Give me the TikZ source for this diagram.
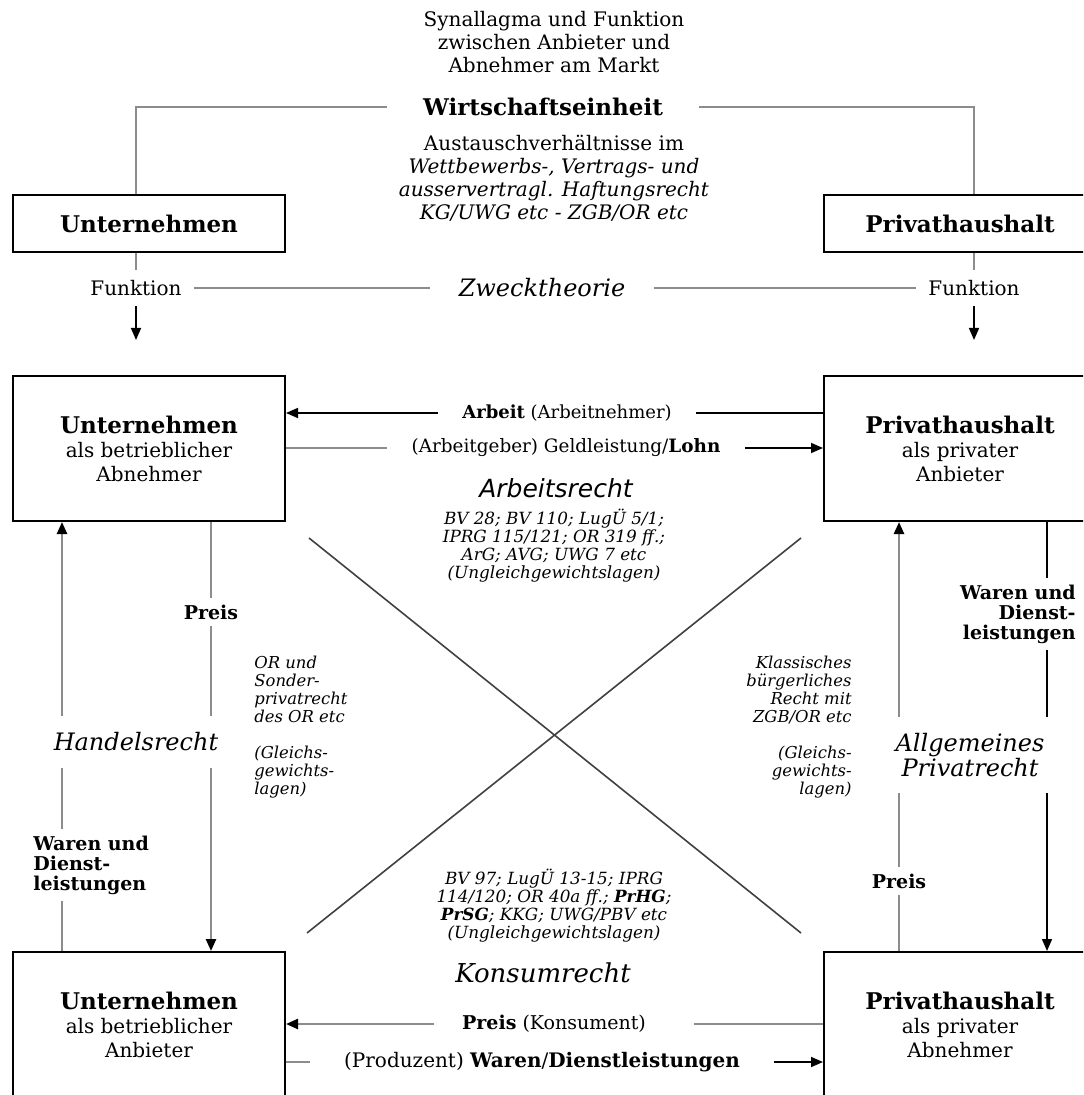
\documentclass[tikz,border=0pt]{standalone}
\usepackage{fontspec}
\setmainfont{DejaVu Serif}
\newfontfamily\arsans{DejaVu Sans}
\usetikzlibrary{arrows.meta}
\begin{document}
\begin{tikzpicture}[x=0.5pt,y=-0.5pt,
  box/.style={draw,line width=1pt,minimum width=136pt,align=center,inner sep=0pt},
  blk/.style={draw=black,line width=0.8pt},
  gry/.style={draw=black!45,line width=1.2pt},
  diag/.style={draw=black!75,line width=0.8pt},
  arr/.style={-{Triangle[length=6pt,width=5pt,color=black]}},
  lbl/.style={inner xsep=12pt,inner ysep=3pt,font=\fontsize{9}{11}\selectfont},
  code/.style={align=center,font=\itshape\fontsize{8.4}{9}\selectfont},
  side/.style={font=\itshape\fontsize{8.2}{9}\selectfont,inner sep=2pt},
  recht/.style={align=center,inner xsep=2pt,inner ysep=8pt,font=\itshape\fontsize{12}{12.5}\selectfont},
  wd/.style={font=\bfseries\fontsize{9.5}{10}\selectfont,inner sep=3pt}]
\useasboundingbox (0,0) rectangle (1083,1095);
\clip (0,0) rectangle (1083,1095);
\coordinate (cl) at (136,0);
\coordinate (cr) at (974,0);
\coordinate (xl1) at (62,0);
\coordinate (xl2) at (211,0);
\coordinate (xr1) at (899,0);
\coordinate (xr2) at (1047,0);

\node[align=center,font=\fontsize{10}{11.5}\selectfont] (title) at (554,42) {Synallagma und Funktion\\zwischen Anbieter und\\Abnehmer am Markt};
\node[font=\bfseries\fontsize{11.5}{13}\selectfont,inner xsep=18pt] (we) at (543,107) {Wirtschaftseinheit};
\node[align=center,font=\fontsize{10}{11.5}\selectfont] (aus) at (554,178) {Austauschverhältnisse im\\\textit{Wettbewerbs-, Vertrags- und}\\\textit{ausservertragl. Haftungsrecht}\\\textit{KG/UWG etc - ZGB/OR etc}};

\node[box,minimum height=28.5pt,font=\bfseries\fontsize{11.5}{13}\selectfont] (ut) at (149,223.5) {Unternehmen};
\node[box,minimum height=28.5pt,font=\bfseries\fontsize{11.5}{13}\selectfont] (pt) at (960,223.5) {Privathaushalt};
\node[lbl,font=\fontsize{10}{11}\selectfont,inner xsep=6pt,inner ysep=5pt] (fl) at (136,288) {Funktion};
\node[lbl,font=\fontsize{10}{11}\selectfont,inner xsep=6pt,inner ysep=5pt] (fr) at (974,288) {Funktion};
\node[font=\itshape\fontsize{12}{13}\selectfont,inner xsep=14pt] (zt) at (542,288) {Zwecktheorie};
\coordinate (fla) at (136,340);
\coordinate (fra) at (974,340);

\draw[gry] (we) -| (ut.north -| cl);
\draw[gry] (we) -| (pt.north -| cr);
\draw[gry] (ut.south -| cl) -- (fl);
\draw[gry] (pt.south -| cr) -- (fr);
\draw[blk,arr] (fl) -- (fla);
\draw[blk,arr] (fr) -- (fra);
\draw[gry] (fl.east) -- (zt.west);
\draw[gry] (zt.east) -- (fr.west);

\node[box,minimum height=72.5pt,font=\fontsize{10}{12}\selectfont] (ua) at (149,448.5) {{\bfseries\fontsize{11.5}{12}\selectfont Unternehmen}\\als betrieblicher\\Abnehmer};
\node[box,minimum height=72.5pt,font=\fontsize{10}{12}\selectfont] (pa) at (960,448.5) {{\bfseries\fontsize{11.5}{12}\selectfont Privathaushalt}\\als privater\\Anbieter};
\node[lbl] (arb) at (567,413) {\textbf{Arbeit} (Arbeitnehmer)};
\node[lbl,font=\fontsize{9.2}{11}\selectfont] (geld) at (566,448) {(Arbeitgeber) Geldleistung/\textbf{Lohn}};
\node[font=\arsans\itshape\fontsize{12.5}{13}\selectfont] (ar) at (556,488) {Arbeitsrecht};
\node[code] (arc) at (554,546) {BV 28; BV 110; LugÜ 5/1;\\IPRG 115/121; OR 319 ff.;\\ArG; AVG; UWG 7 etc\\(Ungleichgewichtslagen)};

\draw[blk] (pa.west |- arb) -- (arb);
\draw[blk,arr] (arb) -- (ua.east |- arb);
\draw[gry] (ua.east |- geld) -- (geld);
\draw[blk,arr] (geld) -- (pa.west |- geld);

\coordinate (d1) at (309,538);
\coordinate (d2) at (801,933);
\coordinate (d3) at (801,538);
\coordinate (d4) at (307,933);
\draw[diag] (d1) -- (d2);
\draw[diag] (d3) -- (d4);

\node[box,minimum height=73pt,font=\fontsize{10}{12}\selectfont] (ub) at (149,1025) {{\bfseries\fontsize{11.5}{12}\selectfont Unternehmen}\\als betrieblicher\\Anbieter};
\node[box,minimum height=73pt,font=\fontsize{10}{12}\selectfont] (pb) at (960,1025) {{\bfseries\fontsize{11.5}{12}\selectfont Privathaushalt}\\als privater\\Abnehmer};

\node[recht] (hr) at (136,742) {Handelsrecht};
\node[recht] (ap) at (970,755) {Allgemeines\\Privatrecht};
\node[wd] (preisl) at (211,612) {Preis};
\node[wd] (preisr) at (899,881) {Preis};
\node[wd,anchor=west,align=left] (wl) at (27,865) {Waren und\\Dienst-\\leistungen};
\node[wd,anchor=east,align=right] (wr) at (1082,614) {Waren und\\Dienst-\\leistungen};
\node[side,anchor=west,align=left] (orb) at (250,727) {OR und\\Sonder-\\privatrecht\\des OR etc\\[9pt](Gleichs-\\gewichts-\\lagen)};
\node[side,anchor=east,align=right] (kb) at (856,727) {Klassisches\\bürgerliches\\Recht mit\\ZGB/OR etc\\[9pt](Gleichs-\\gewichts-\\lagen)};

\draw[gry,arr] (hr.north -| xl1) -- (ua.south -| xl1);
\draw[gry] (wl.north -| xl1) -- (hr.south -| xl1);
\draw[gry] (ub.north -| xl1) -- (wl.south -| xl1);
\draw[gry] (ua.south -| xl2) -- (preisl);
\draw[gry] (preisl) -- (hr.north -| xl2);
\draw[gry,arr] (hr.south -| xl2) -- (ub.north -| xl2);
\draw[gry] (pb.north -| xr1) -- (preisr);
\draw[gry] (preisr) -- (ap.south -| xr1);
\draw[gry,arr] (ap.north -| xr1) -- (pa.south -| xr1);
\draw[blk] (pa.south -| xr2) -- (wr.north -| xr2);
\draw[blk] (wr.south -| xr2) -- (ap.north -| xr2);
\draw[blk,arr] (ap.south -| xr2) -- (pb.north -| xr2);

\node[code] (kbc) at (554,906) {BV 97; LugÜ 13-15; IPRG\\114/120; OR 40a ff.; \textbf{PrHG};\\\textbf{PrSG}; KKG; UWG/PBV etc\\(Ungleichgewichtslagen)};
\node[font=\itshape\fontsize{13}{14}\selectfont] (kr) at (543,973) {Konsumrecht};
\node[lbl,font=\fontsize{9.5}{11}\selectfont,inner xsep=14pt] (pk) at (554,1024) {\textbf{Preis} (Konsument)};
\node[lbl,font=\fontsize{10}{11}\selectfont,inner xsep=17pt] (pw) at (542,1062) {(Produzent) \textbf{Waren}/\textbf{Dienstleistungen}};

\draw[gry] (pb.west |- pk) -- ([xshift=10pt]pk.east);
\draw[gry,arr] (pk) -- (ub.east |- pk);
\draw[gry] (ub.east |- pw) -- (pw);
\draw[blk,arr] (pw) -- (pb.west |- pw);
\end{tikzpicture}
\end{document}
